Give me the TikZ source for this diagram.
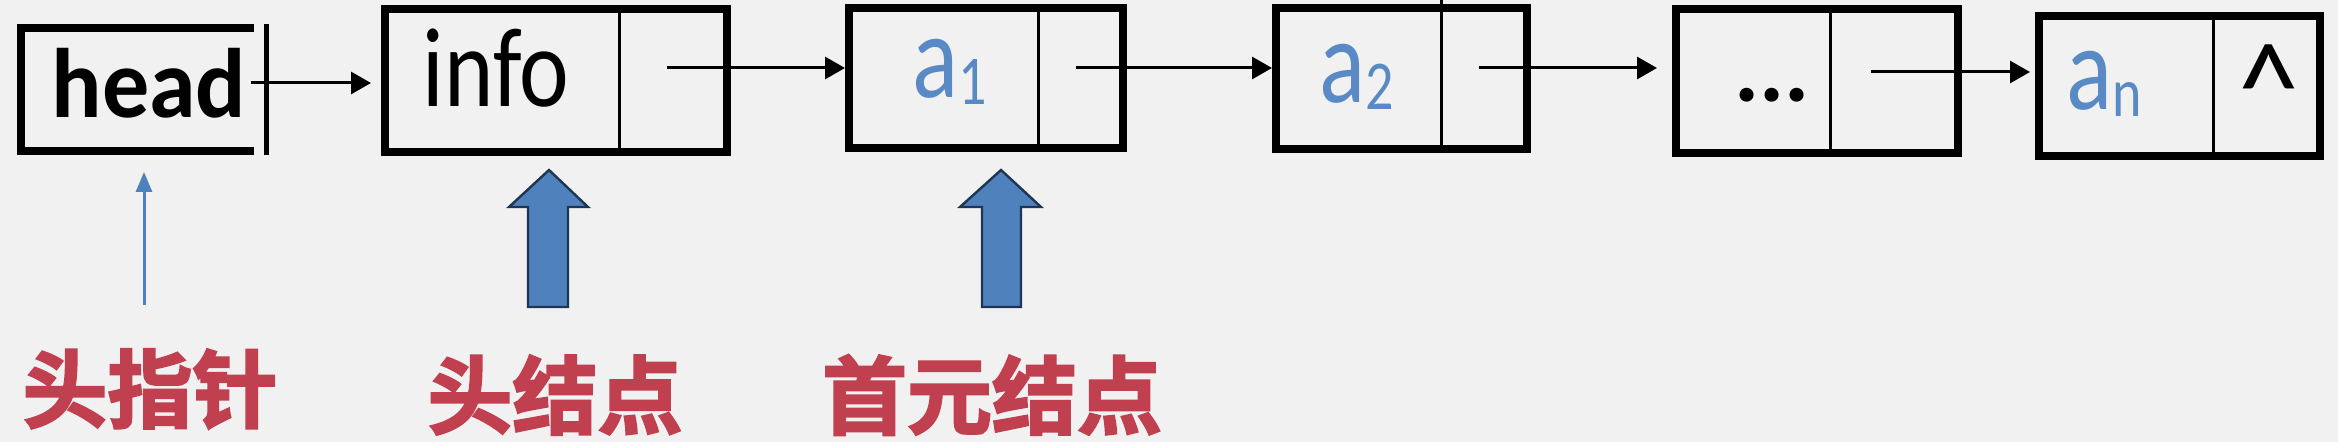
\documentclass[tikz,border=0pt]{standalone}
\usepackage{fontspec}
\setmainfont{Carlito}
\newfontfamily\cjkb{Noto Sans CJK SC Bold}[FakeBold=2.5]
\usetikzlibrary{arrows.meta}
\definecolor{bgcol}{HTML}{F1F1F1}
\definecolor{accblue}{HTML}{4F81BD}
\definecolor{txtblue}{HTML}{5A8AC6}
\definecolor{accred}{HTML}{C0404F}
\definecolor{arrowedge}{HTML}{1F3552}
\newcommand\subidx[1]{\raisebox{-2.5pt}{\fontsize{28pt}{28pt}\selectfont #1}}
\newcommand\tallt[2]{\scalebox{1}[#1]{#2}}
\begin{document}
\begin{tikzpicture}[x=0.5pt,y=-0.5pt,
  listbox/.style={draw=black, line width=4pt, inner sep=0pt, outer sep=0pt, rectangle},
  divider/.style={draw=black, line width=1.5pt},
  link/.style={draw=black, line width=1.5pt, -{Triangle[length=10pt,width=11pt]}},
  thinptr/.style={draw=accblue, line width=1.5pt, -{Triangle[length=10pt,width=8pt]}},
  blockarrow/.style={fill=accblue, draw=arrowedge, line width=1.2pt, line join=miter},
  datatext/.style={text=txtblue, font=\fontsize{48pt}{48pt}\selectfont, inner sep=0pt, anchor=base},
  plaintext/.style={text=black, font=\fontsize{47pt}{47pt}\selectfont, inner sep=0pt, anchor=base},
  cjklabel/.style={text=accred, font=\cjkb\fontsize{42.5pt}{42.5pt}\selectfont, inner sep=0pt},
]
\path[fill=bgcol] (0,0) rectangle (2338,442);
\useasboundingbox (0,0) rectangle (2338,442);

% head pointer box (three sides + separate right bar)
\node[inner sep=0pt, outer sep=0pt, minimum width=116.5pt, minimum height=61.5pt] (head) at (137.5,89.5) {};
\draw[line width=4pt] (head.north east) -- (head.north west) -- (head.south west) -- (head.south east);
\draw[line width=2.5pt] (266,24) -- (266,155);
\node[plaintext, font=\bfseries\fontsize{47pt}{47pt}\selectfont] (headtxt) at (149,118) {\tallt{1.05}{head}};

% list nodes
\node[listbox, minimum width=171pt, minimum height=71.5pt] (info) at (556,80.5) {};
\node[listbox, minimum width=137pt, minimum height=70pt] (a1) at (986,78) {};
\node[listbox, minimum width=125.5pt, minimum height=70.5pt] (a2) at (1401.5,78.5) {};
\node[listbox, minimum width=141pt, minimum height=72pt] (dots) at (1817,81) {};
\node[listbox, minimum width=140.5pt, minimum height=70pt] (an) at (2179.5,86) {};

% dividers
\draw[divider] (619,0 |- info.north) -- (619,0 |- info.south);
\draw[divider] (1038,0 |- a1.north) -- (1038,0 |- a1.south);
\draw[divider] (1441,0) -- (1441,0 |- a2.south);
\draw[divider] (1830,0 |- dots.north) -- (1830,0 |- dots.south);
\draw[divider] (2213,0 |- an.north) -- (2213,0 |- an.south);

% texts
\node[plaintext] (infotxt) at (496,107) {\tallt{1.2}{info}};
\node[datatext] (a1txt) at (950,98) {\tallt{1.25}{a\subidx{1}}};
\node[datatext] (a2txt) at (1357,103) {\tallt{1.25}{a\subidx{2}}};
\node[plaintext, font=\bfseries\fontsize{47pt}{47pt}\selectfont] (dotstxt) at (1772,102) {...};
\node[datatext] (antxt) at (2104,110) {\tallt{1.25}{a\subidx{n}}};
\node[plaintext] (nulltxt) at (2269,131) {\scalebox{1.3}[1.35]{\textasciicircum}};

% pointer starts
\coordinate (h0) at (251,83);
\coordinate (p1) at (667,68);
\coordinate (p2) at (1076,68);
\coordinate (p3) at (1479,68);
\coordinate (p4) at (1871,72);

\draw[link, shorten >=7pt] (h0) -- (h0 -| info.west);
\draw[link, shorten >=2pt] (p1) -- (p1 -| a1.west);
\draw[link, shorten >=2pt] (p2) -- (p2 -| a2.west);
\draw[link, shorten >=9.5pt] (p3) -- (p3 -| dots.west);
\draw[link, shorten >=4.5pt] (p4) -- (p4 -| an.west);

% labels
\node[cjklabel] (lhead) at (150,389) {头指针};
\node[cjklabel] (lhnode) at (555,395) {头结点};
\node[cjklabel] (lfirst) at (992,395) {首元结点};

% pointer arrows
\coordinate (t0) at (144,305);
\draw[thinptr] (t0) -- (144,172);
\draw[blockarrow] (549,170) -- (588,207) -- (568,207) -- (568,307) -- (528,307) -- (528,207) -- (509,207) -- cycle;
\draw[blockarrow] (1001,170) -- (1041,207) -- (1021,207) -- (1021,307) -- (982,307) -- (982,207) -- (960,207) -- cycle;
\end{tikzpicture}
\end{document}
